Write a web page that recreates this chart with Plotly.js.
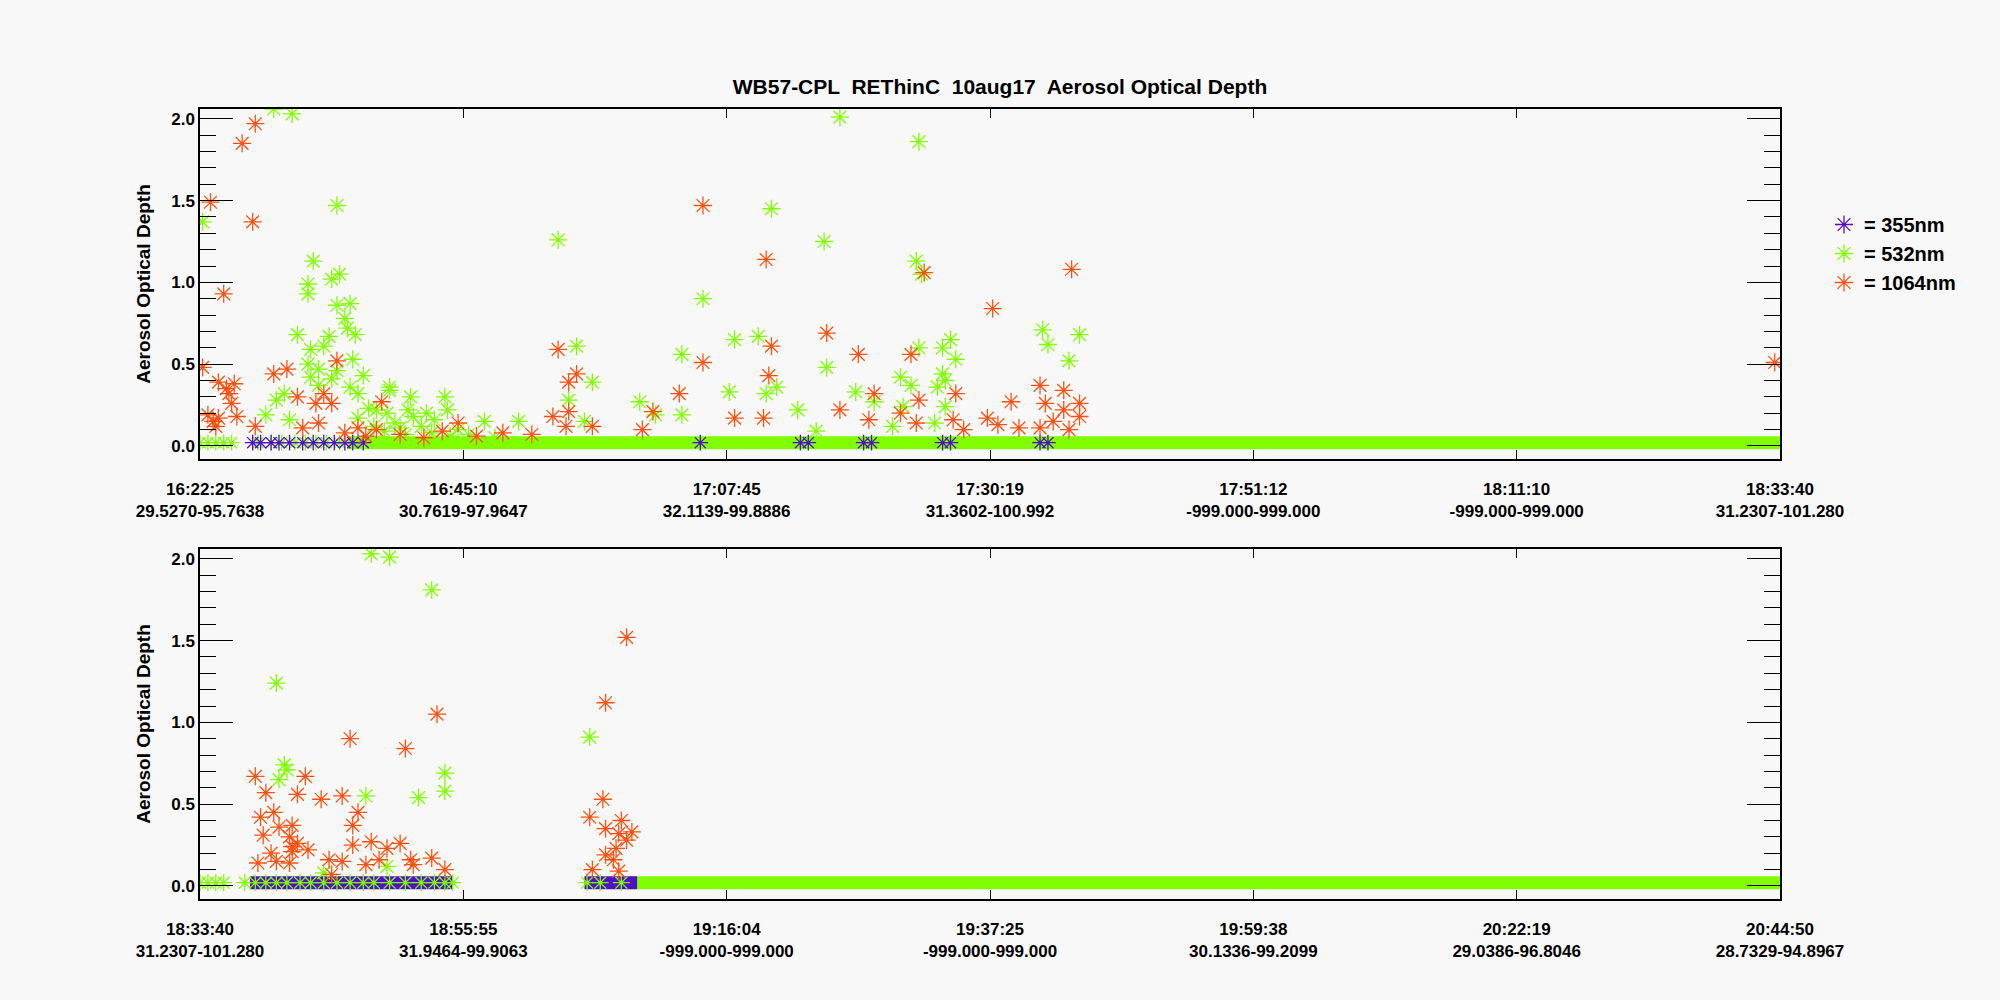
<!DOCTYPE html>
<html>
<head>
<meta charset="utf-8">
<script src="https://cdn.plot.ly/plotly-3.0.1.min.js"></script>
<style>body{margin:0;background:#f8f8f8}</style>
</head>
<body>
<div id="chart" style="width:2000px;height:1000px"></div>
<script>
// x is in tick-interval units along each flight segment (0..6)
const times1 = ['16:22:25', '16:45:10', '17:07:45', '17:30:19', '17:51:12', '18:11:10', '18:33:40'];
const coords1 = ['29.5270-95.7638', '30.7619-97.9647', '32.1139-99.8886', '31.3602-100.992', '-999.000-999.000', '-999.000-999.000', '31.2307-101.280'];
const times2 = ['18:33:40', '18:55:55', '19:16:04', '19:37:25', '19:59:38', '20:22:19', '20:44:50'];
const coords2 = ['31.2307-101.280', '31.9464-99.9063', '-999.000-999.000', '-999.000-999.000', '30.1336-99.2099', '29.0386-96.8046', '28.7329-94.8967'];

// panel 1
const p1OrangeX = [0.01,0.04,0.16,0.21,0.20,0.09,0.07,0.10,0.13,0.11,0.12,0.14,0.03,0.05,0.07,0.06,0.28,0.33,0.37,0.21,0.44,0.47,0.50,0.45,0.52,0.39,1.36,1.40,1.43,1.40,1.34,1.39,1.49,1.72,1.82,1.91,1.91,2.15,2.17,2.16,2.03,1.68,0.98,0.69,0.67,2.14,
  2.38,2.50,2.43,2.56,2.54,2.70,2.75,2.73,2.72,2.66,2.87,2.86,2.90,3.01,2.99,3.03,3.08,3.11,3.19,3.21,3.24,3.28,3.31,3.34,3.34,3.28,3.19,3.30,5.98,
  0.55,0.60,0.63,0.76,0.85,0.92,1.05,1.15,1.26];
const p1OrangeY = [0.48,1.49,1.85,1.97,1.37,0.93,0.39,0.35,0.38,0.32,0.26,0.18,0.19,0.15,0.17,0.12,0.44,0.47,0.30,0.12,0.26,0.32,0.26,0.14,0.52,0.11,0.59,0.39,0.44,0.21,0.18,0.12,0.12,0.21,0.32,0.51,1.47,1.14,0.61,0.43,0.17,0.10,0.14,0.27,0.10,0.17,
  0.69,0.56,0.22,0.32,0.16,0.56,1.06,0.28,0.14,0.20,0.32,0.16,0.10,0.84,0.17,0.13,0.27,0.11,0.37,0.26,0.15,0.34,1.08,0.26,0.18,0.22,0.11,0.10,0.51,
  0.08,0.11,0.06,0.07,0.05,0.09,0.06,0.08,0.07];
const p1GreenX = [0.01,0.28,0.35,0.52,0.43,0.50,0.53,0.41,0.41,0.52,0.57,0.55,0.56,0.59,0.37,0.49,0.42,0.47,0.58,0.41,0.45,0.52,0.42,0.50,0.62,0.45,0.57,0.72,0.32,0.29,0.60,0.80,0.93,0.72,0.25,0.34,0.79,0.94,1.08,1.21,1.36,1.43,1.49,1.40,1.46,1.67,1.73,1.83,1.83,1.91,2.03,2.01,2.12,2.17,2.19,2.15,2.27,
  0.64,0.67,0.71,0.81,0.86,0.89,0.84,0.98,0.74,0.66,0.60,0.70,0.76,0.78,0.88,0.95,1.02,1.12,
  2.43,2.73,2.37,2.72,2.74,2.38,2.49,2.56,2.66,2.70,2.73,2.82,2.85,2.87,2.80,2.83,2.82,2.83,2.79,2.63,2.67,3.20,3.22,3.30,3.34,2.34];
const p1GreenY = [1.37,2.06,2.03,1.47,1.13,1.02,1.05,0.99,0.93,0.86,0.87,0.78,0.72,0.68,0.68,0.67,0.59,0.61,0.53,0.50,0.47,0.46,0.42,0.41,0.43,0.37,0.36,0.36,0.32,0.28,0.32,0.30,0.30,0.34,0.19,0.16,0.22,0.22,0.15,0.15,1.26,0.61,0.39,0.28,0.15,0.27,0.19,0.56,0.19,0.90,0.65,0.33,0.67,1.45,0.36,0.32,0.22,
  0.23,0.22,0.20,0.18,0.20,0.16,0.12,0.10,0.14,0.12,0.17,0.09,0.11,0.07,0.08,0.06,0.07,0.05,
  2.01,1.86,1.25,1.13,1.05,0.48,0.33,0.27,0.42,0.37,0.60,0.60,0.65,0.53,0.36,0.40,0.44,0.24,0.14,0.12,0.24,0.71,0.62,0.52,0.68,0.09];
const p1GreenZeroX = [0.0,0.03,0.06,0.09,0.12,0.22,0.27,0.31,0.36,0.40,0.44,0.48,0.53];
const p1BlueX = [0.20,0.23,0.27,0.30,0.34,0.39,0.43,0.47,0.51,0.55,0.58,0.62,1.9,2.28,2.31,2.52,2.55,2.82,2.85,3.19,3.22];
const p1BandX = [0.56, 6.0];

// panel 2
const p2OrangeX = [0.21,0.25,0.23,0.28,0.24,0.30,0.35,0.22,0.27,0.29,0.34,0.34,0.35,0.35,0.37,0.41,0.37,0.40,0.46,0.54,0.57,0.60,0.58,0.58,0.65,0.71,0.76,0.78,0.90,0.80,0.81,0.88,0.93,0.49,0.54,0.63,0.68,0.50,
  1.48,1.54,1.53,1.54,1.60,1.59,1.64,1.62,1.58,1.54,1.62,1.49,1.59,1.57];
const p2OrangeY = [0.67,0.57,0.42,0.45,0.31,0.36,0.37,0.14,0.20,0.15,0.14,0.30,0.24,0.21,0.26,0.22,0.56,0.67,0.53,0.55,0.90,0.45,0.37,0.25,0.27,0.23,0.26,0.84,1.05,0.16,0.13,0.17,0.10,0.16,0.15,0.13,0.16,0.07,
  0.42,1.12,0.53,0.35,0.40,0.32,0.33,0.28,0.23,0.19,1.52,0.10,0.09,0.16];
const p2GreenX = [0.29,0.32,0.30,0.33,0.65,0.72,0.88,0.63,0.83,0.93,0.93,1.48,0.71,0.47];
const p2GreenY = [1.24,0.74,0.65,0.71,2.03,2.01,1.81,0.55,0.54,0.69,0.58,0.91,0.12,0.08];
const p2GreenZeroX = [0.0,0.03,0.06,0.09,0.17,0.21,0.25,0.29,0.33,0.38,0.42,0.47,0.52,0.57,0.62,0.66,0.72,0.78,0.84,0.89,0.93,0.96,1.47,1.52,1.60];
const p2BlueBands = [[0.19, 0.96], [1.46, 1.66]];
const p2BandX = [1.62, 6.0];

const blue = '#5010c8', green = '#80ff00', orange = '#ff5010';
const font = {family: 'Liberation Sans, Arial, sans-serif', size: 17, color: '#000', weight: 'bold'};

function stars(x, y, color, ax, name, size) {
  return {
    x: x, y: y, type: 'scatter', mode: 'markers', xaxis: ax[0], yaxis: ax[1],
    name: name, showlegend: !!name,
    marker: {symbol: 'asterisk-open', size: size || 15, line: {color: color, width: 1.3}, color: color}
  };
}
function band(x, color, ax) {
  return {x: x, y: [0.02, 0.02], type: 'scatter', mode: 'lines', xaxis: ax[0], yaxis: ax[1],
    showlegend: false, line: {color: color, width: 13}, hoverinfo: 'skip'};
}
const zeros = a => a.map(() => 0.02);

const A1 = ['x', 'y'], A2 = ['x2', 'y2'];
const data = [
  band(p1BandX, green, A1),
  stars(p1GreenZeroX, zeros(p1GreenZeroX), green, A1, null, 13),
  stars(p1BlueX, zeros(p1BlueX), blue, A1, null, 13),
  stars(p1GreenX, p1GreenY, green, A1),
  stars(p1OrangeX, p1OrangeY, orange, A1),
  band(p2BandX, green, A2),
  band(p2BlueBands[0], blue, A2),
  band(p2BlueBands[1], blue, A2),
  stars(p2GreenZeroX, zeros(p2GreenZeroX), green, A2, null, 14),
  stars(p2GreenX, p2GreenY, green, A2),
  stars(p2OrangeX, p2OrangeY, orange, A2),
  // legend entries
  stars([null], [null], blue, A1, '= 355nm'),
  stars([null], [null], green, A1, '= 532nm'),
  stars([null], [null], orange, A1, '= 1064nm')
];

function xaxis(domainAnchor, times, coords) {
  return {
    anchor: domainAnchor, domain: [0.1, 0.89], range: [0, 6],
    tickvals: [0, 1, 2, 3, 4, 5, 6],
    ticktext: times.map((t, i) => t + '<br>' + coords[i]),
    ticks: 'inside', ticklen: 9, tickcolor: '#000', mirror: 'ticks',
    showline: true, linecolor: '#000', linewidth: 1.5, showgrid: false, zeroline: false,
    tickfont: font, ticklabelstandoff: 14
  };
}
function yaxis(anchor, domain) {
  return {
    anchor: anchor, domain: domain, range: [-0.08, 2.06],
    tickvals: [0, 0.5, 1, 1.5, 2], tickformat: '.1f',
    ticks: 'inside', ticklen: 33, tickcolor: '#000', mirror: 'ticks',
    minor: {dtick: 0.1, tick0: 0, ticks: 'inside', ticklen: 16, tickcolor: '#000'},
    showline: true, linecolor: '#000', linewidth: 1.5, showgrid: false, zeroline: false,
    tickfont: font, title: {text: 'Aerosol Optical Depth', font: {family: font.family, size: 19, color: '#000', weight: 'bold'}, standoff: 16}
  };
}

const layout = {
  width: 2000, height: 1000, margin: {l: 0, r: 0, t: 0, b: 0},
  paper_bgcolor: '#f8f8f8', plot_bgcolor: '#f8f8f8',
  title: {text: 'WB57-CPL  REThinC  10aug17  Aerosol Optical Depth', x: 0.5, xanchor: 'center', y: 0.913, yanchor: 'middle',
    font: {family: font.family, size: 21, color: '#000', weight: 'bold'}},
  xaxis: xaxis('y', times1, coords1),
  yaxis: yaxis('x', [0.541, 0.891]),
  xaxis2: xaxis('y2', times2, coords2),
  yaxis2: yaxis('x2', [0.101, 0.451]),
  showlegend: true,
  legend: {x: 0.912, y: 0.795, xanchor: 'left', yanchor: 'top', bgcolor: 'rgba(0,0,0,0)',
    font: {family: font.family, size: 20, color: '#000', weight: 'bold'}, itemwidth: 30, tracegroupgap: 0}
};

Plotly.newPlot('chart', data, layout, {displayModeBar: false});
</script>
</body>
</html>
